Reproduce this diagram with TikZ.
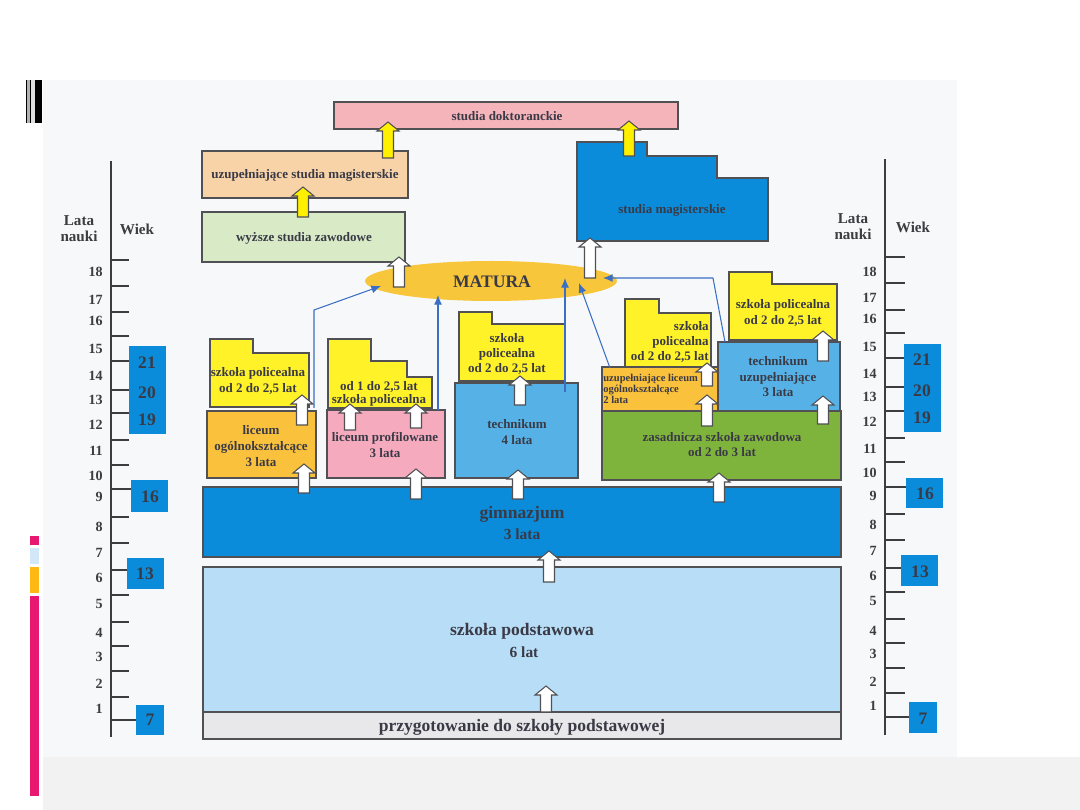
\documentclass[tikz,border=0pt]{standalone}
\usepackage{fontspec}
\setmainfont{Liberation Serif}
\usetikzlibrary{arrows.meta,shapes.geometric}
\definecolor{ink}{RGB}{58,58,70}
\definecolor{edgec}{RGB}{80,80,85}
\definecolor{scanbg}{RGB}{247,248,250}
\definecolor{stripbg}{RGB}{242,242,242}
\definecolor{cPinkA}{RGB}{245,180,186}
\definecolor{cPeach}{RGB}{249,211,168}
\definecolor{cLGreen}{RGB}{216,234,198}
\definecolor{cBlue}{RGB}{10,140,218}
\definecolor{cGold}{RGB}{247,198,58}
\definecolor{cYellow}{RGB}{255,242,40}
\definecolor{cOrange}{RGB}{249,193,60}
\definecolor{cPinkB}{RGB}{245,171,189}
\definecolor{cTech}{RGB}{86,178,230}
\definecolor{cGreen}{RGB}{127,180,60}
\definecolor{cSky}{RGB}{184,222,247}
\definecolor{cGrayBox}{RGB}{232,232,234}
\definecolor{cLine}{RGB}{59,111,198}
\definecolor{cArrowY}{RGB}{255,240,0}
\definecolor{cMag}{RGB}{232,23,111}
\definecolor{cPale}{RGB}{210,232,248}
\definecolor{cAmber}{RGB}{253,184,19}
\definecolor{scaleink}{RGB}{60,60,65}
\newcommand\blkarrow[4]{\filldraw[draw=edgec,line width=0.6pt,fill=#4] (#1-5.5,#2) -- (#1-5.5,#3+9) -- (#1-11,#3+9) -- (#1,#3) -- (#1+11,#3+9) -- (#1+5.5,#3+9) -- (#1+5.5,#2) -- cycle;}
\tikzset{
  box/.style={draw=edgec, line width=0.75pt},
  t/.style={font=\bfseries\fontsize{7.4}{9}\selectfont, text=ink, align=center, inner sep=0pt},
  tbig/.style={font=\bfseries\fontsize{10}{12}\selectfont, text=ink, align=center, inner sep=0pt},
  tmid/.style={font=\bfseries\fontsize{8.8}{10}\selectfont, text=ink, align=center, inner sep=0pt},
  num/.style={font=\bfseries\fontsize{8}{9}\selectfont, text=scaleink, inner sep=0pt},
  agenum/.style={font=\bfseries\fontsize{10}{11}\selectfont, text=ink, inner sep=0pt},
  head/.style={font=\bfseries\fontsize{8.6}{10}\selectfont, text=scaleink, align=center, inner sep=0pt},
  tick/.style={draw=scaleink, line width=1.5pt},
  axis/.style={draw=scaleink, line width=1.1pt},
  link/.style={draw=cLine, line width=0.6pt, -{Latex[length=5.5pt,width=4.5pt]}},
}
\begin{document}
\begin{tikzpicture}[x=0.02cm,y=-0.02cm]
\useasboundingbox (0,0) rectangle (1080,810);
% background
\fill[white] (0,0) rectangle (1080,810);
\fill[scanbg] (43,80) rectangle (957,757);
\fill[stripbg] (43,757) rectangle (1080,810);
% left decoration
\fill[black] (26,80) rectangle (27.4,123);
\fill[gray!60] (27.4,80) rectangle (29.6,123);
\fill[black] (29.6,80) rectangle (31,123);
\fill[gray!25] (31,80) rectangle (34.7,123);
\fill[black] (34.7,80) rectangle (42,123);
\fill[cMag] (30,536) rectangle (39,545);
\fill[cPale] (30,548) rectangle (39,564);
\fill[cAmber] (30,567) rectangle (39,593);
\fill[cMag] (30,596) rectangle (39,796);

% ---------- left scale ----------
\draw[axis] (111,161) -- (111,737);
\foreach \y in {260,286,312,336,361,390,413,440,465,517,543,570,595,622,646,671,697}
  \draw[tick] (111,\y) -- (129,\y);
\draw[tick] (111,489) -- (131,489);
\draw[tick] (111,720) -- (136,720);
\foreach \n/\y in {18/272,17/300,16/321,15/349,14/376,13/400,12/425,11/451,10/476,9/497,8/527,7/553,6/578,5/604,4/633,3/657,2/684,1/709}
  \node[num, anchor=east] (ln\n) at (103,\y) {\n};
\node[head] (lata1) at (79,229) {Lata\\[-1pt]nauki};
\node[head] (wiek1) at (137,229) {Wiek};
\fill[cBlue] (129,346) rectangle (166,434);
\node[agenum] (la21) at (147,363) {21};
\node[agenum] (la20) at (147,393) {20};
\node[agenum] (la19) at (147,420) {19};
\fill[cBlue] (131,480) rectangle (168,512);
\node[agenum] (la16) at (150,497) {16};
\fill[cBlue] (127,558) rectangle (164,589);
\node[agenum] (la13) at (145,574) {13};
\fill[cBlue] (136,705) rectangle (164,735);
\node[agenum] (la7) at (150,720) {7};

% ---------- right scale ----------
\draw[axis] (885,159) -- (885,735);
\foreach \y in {257,283,310,333,358,387,411,438,462,514,540,592,619,643,668,693}
  \draw[tick] (885,\y) -- (905,\y);
\draw[tick] (885,487) -- (906,487);
\draw[tick] (885,568) -- (901,568);
\draw[tick] (885,717) -- (909,717);
\foreach \n/\y in {18/272,17/298,16/319,15/347,14/374,13/397,12/422,11/449,10/473,9/496,8/525,7/551,6/576,5/601,4/631,3/654,2/682,1/706}
  \node[num, anchor=east] (rn\n) at (877,\y) {\n};
\node[head] (lata2) at (853,227) {Lata\\[-1pt]nauki};
\node[head] (wiek2) at (913,227) {Wiek};
\fill[cBlue] (904,344) rectangle (941,432);
\node[agenum] (ra21) at (922,360) {21};
\node[agenum] (ra20) at (922,391) {20};
\node[agenum] (ra19) at (922,418) {19};
\fill[cBlue] (906,478) rectangle (943,508);
\node[agenum] (ra16) at (925,494) {16};
\fill[cBlue] (901,555) rectangle (938,586);
\node[agenum] (ra13) at (920,572) {13};
\fill[cBlue] (909,702) rectangle (937,733);
\node[agenum] (ra7) at (923,719) {7};

% ---------- higher education ----------
\filldraw[box, fill=cPinkA] (334,102) rectangle (678,129);
\node[t] (dokt) at (507,116) {studia doktoranckie};
\filldraw[box, fill=cPeach] (202,151) rectangle (408,198);
\node[t] (uzmag) at (305,175) {uzupełniające studia magisterskie};
\filldraw[box, fill=cLGreen] (202,212) rectangle (405,262);
\node[t] (wyzsze) at (304,238) {wyższe studia zawodowe};
\filldraw[box, fill=cBlue] (577,142) -- (647,142) -- (647,156) -- (717,156) -- (717,178) -- (768,178) -- (768,241) -- (577,241) -- cycle;
\node[t] (mag) at (672,210) {studia magisterskie};

% MATURA
\node[ellipse, fill=cGold, minimum width=5.04cm, minimum height=0.8cm, inner sep=0pt] (matura) at (491,281) {};
\node[tbig] (maturat) at (492,282) {MATURA};

% ---------- secondary ----------
% left policealna
\filldraw[box, fill=cYellow] (210,339) -- (253,339) -- (253,353) -- (309,353) -- (309,407) -- (210,407) -- cycle;
\node[t] (pol1) at (258,381) {szkoła policealna\\od 2 do 2,5 lat};
\filldraw[box, fill=cOrange] (207,411) rectangle (316,478);
\node[t] (lo) at (261,446) {liceum\\ogólnokształcące\\3 lata};
% profilowane
\filldraw[box, fill=cYellow] (328,339) -- (371,339) -- (371,361) -- (407,361) -- (407,377) -- (432,377) -- (432,408) -- (328,408) -- cycle;
\node[t, font=\bfseries\fontsize{7.4}{7.8}\selectfont] (pol2) at (379,394) {od 1 do 2,5 lat\\szkoła policealna};
\filldraw[box, fill=cPinkB] (327,410) rectangle (445,478);
\node[t, font=\bfseries\fontsize{7.4}{8.6}\selectfont] (lp) at (385,445) {liceum profilowane\\3 lata};
% technikum
\filldraw[box, fill=cYellow] (459,312) -- (492,312) -- (492,324) -- (565,324) -- (565,381) -- (459,381) -- cycle;
\node[t, font=\bfseries\fontsize{7.4}{8.8}\selectfont] (pol3) at (507,354) {szkoła\\policealna\\od 2 do 2,5 lat};
\filldraw[box, fill=cTech] (455,383) rectangle (578,478);
\node[t] (tech) at (517,432) {technikum\\4 lata};
% right group
\filldraw[box, fill=cGreen] (602,411) rectangle (841,480);
\node[t, font=\bfseries\fontsize{7.4}{8.6}\selectfont] (zsz) at (722,445) {zasadnicza szkoła zawodowa\\od 2 do 3 lat};
\filldraw[box, fill=cOrange] (602,367) rectangle (718,411);
\node[t, font=\bfseries\fontsize{6}{6.3}\selectfont, align=left, anchor=west] (ulo) at (603,389) {uzupełniające liceum\\ogólnokształcące\\2 lata};
\filldraw[box, fill=cYellow] (625,299) -- (659,299) -- (659,313) -- (711,313) -- (711,367) -- (625,367) -- cycle;
\node[t, font=\bfseries\fontsize{7.4}{8.5}\selectfont, align=right, anchor=east] (pol4) at (709,342) {szkoła\\policealna\\od 2 do 2,5 lat};
\filldraw[box, fill=cTech] (718,342) rectangle (840,411);
\node[t, font=\bfseries\fontsize{7.4}{8.8}\selectfont] (tu) at (778,377) {technikum\\uzupełniające\\3 lata};
\filldraw[box, fill=cYellow] (729,272) -- (772,272) -- (772,284) -- (837,284) -- (837,340) -- (729,340) -- cycle;
\node[t, font=\bfseries\fontsize{7.4}{8.6}\selectfont] (pol5) at (783,313) {szkoła policealna\\od 2 do 2,5 lat};

% ---------- base ----------
\filldraw[box, fill=cBlue] (203,487) rectangle (841,557);
\node[tbig] (gim) at (522,514) {gimnazjum};
\node[tmid] (gim3) at (522,534) {3 lata};
\filldraw[box, fill=cSky] (203,567) rectangle (841,712);
\node[tbig] (sp) at (522,631) {szkoła podstawowa};
\node[tmid] (sp6) at (524,652) {6 lat};
\filldraw[box, fill=cGrayBox] (203,712) rectangle (841,739);
\node[tbig] (przyg) at (522,727) {przygotowanie do szkoły podstawowej};

% ---------- block arrows ----------
\blkarrow{388}{158}{122}{cArrowY}
\blkarrow{303}{217}{187}{cArrowY}
\blkarrow{629}{156}{121}{cArrowY}
\blkarrow{399}{287}{257}{white}
\blkarrow{590}{278}{238}{white}
\blkarrow{302}{425}{395}{white}
\blkarrow{304}{493}{464}{white}
\blkarrow{350}{430}{404}{white}
\blkarrow{416}{428}{404}{white}
\blkarrow{416}{499}{469}{white}
\blkarrow{520}{405}{376}{white}
\blkarrow{518}{499}{470}{white}
\blkarrow{707}{386}{363}{white}
\blkarrow{707}{426}{395}{white}
\blkarrow{823}{361}{331}{white}
\blkarrow{823}{424}{396}{white}
\blkarrow{719}{502}{473}{white}
\blkarrow{549}{582}{551}{white}
\blkarrow{546}{712}{686}{white}

% ---------- thin links to MATURA ----------
\coordinate (s1) at (314,408); \coordinate (b1) at (314,310); \coordinate (m1) at (381,286);
\coordinate (s2) at (438,410); \coordinate (m2) at (438,295);
\coordinate (s3) at (565,392); \coordinate (m3) at (565,278);
\coordinate (s4) at (610,368); \coordinate (m4) at (579,283);
\coordinate (s5) at (725,342); \coordinate (b5) at (713,278); \coordinate (m5) at (603,278);
\draw[link] (s1) -- (b1) -- (m1);
\draw[link] (s2) -- (m2);
\draw[link] (s3) -- (m3);
\draw[link] (s4) -- (m4);
\draw[link] (s5) -- (b5) -- (m5);
\end{tikzpicture}
\end{document}
